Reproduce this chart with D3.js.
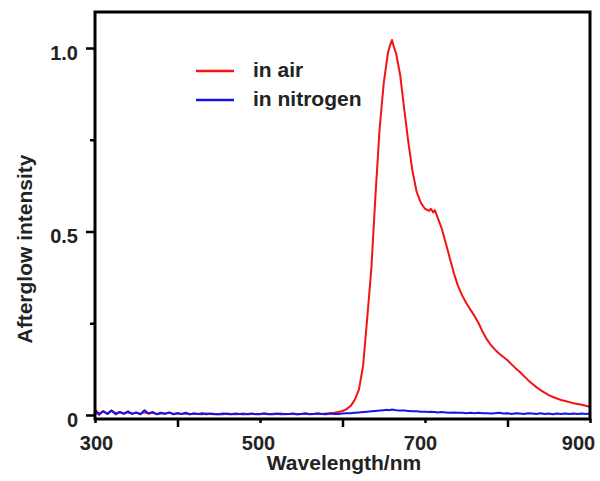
<!DOCTYPE html>
<html>
<head>
<meta charset="utf-8">
<script src="https://cdn.jsdelivr.net/npm/d3@7"></script>
<style>
  html, body { margin: 0; padding: 0; background: #fff; }
  svg { display: block; }
  text { font-family: "Liberation Sans", Arial, sans-serif; font-weight: bold; fill: #222; }
</style>
</head>
<body>
<svg id="chart" width="600" height="481"></svg>
<script>
const wavelengths = [
  300,305,310,315,320,325,330,335,340,345,
  350,355,360,365,370,375,380,385,390,395,
  400,405,410,415,420,425,430,435,440,445,
  450,455,460,465,470,475,480,485,490,495,
  500,505,510,515,520,525,530,535,540,545,
  550,555,560,565,570,575,580,585,590,595,
  600,605,610,615,620,625,630,635,640,645,
  650,655,657,660,662,665,670,675,680,685,
  690,695,700,705,707,710,712,715,720,725,
  730,735,740,745,750,755,760,765,770,775,
  780,785,790,795,800,805,810,815,820,825,
  830,835,840,845,850,855,860,865,870,875,
  880,885,890,895,900
];
const inAir = [
  0.014,0.004,0.009,0.003,0.012,0.005,0.008,0.003,0.007,0.004,
  0.006,0.003,0.007,0.004,0.006,0.003,0.005,0.004,0.006,0.003,
  0.005,0.003,0.004,0.002,0.004,0.003,0.002,0.004,0.003,0.002,
  0.003,0.002,0.004,0.003,0.002,0.003,0.004,0.002,0.003,0.003,
  0.002,0.004,0.003,0.002,0.003,0.004,0.002,0.003,0.003,0.002,
  0.003,0.004,0.003,0.003,0.004,0.003,0.004,0.005,0.006,0.008,
  0.011,0.016,0.025,0.042,0.070,0.135,0.265,0.400,0.600,0.780,
  0.905,0.985,1.003,1.022,1.005,0.985,0.925,0.830,0.740,0.662,
  0.607,0.578,0.562,0.556,0.562,0.552,0.558,0.540,0.510,0.470,
  0.428,0.386,0.352,0.326,0.305,0.287,0.270,0.250,0.226,0.206,
  0.190,0.178,0.167,0.158,0.149,0.138,0.127,0.117,0.106,0.095,
  0.085,0.076,0.068,0.061,0.054,0.049,0.045,0.041,0.038,0.035,
  0.032,0.030,0.028,0.025,0.022
];
const inNitrogen = [
  0.009,0.001,0.011,0.003,0.012,0.002,0.008,0.004,0.010,0.003,
  0.007,0.002,0.013,0.004,0.008,0.002,0.006,0.003,0.007,0.002,
  0.005,0.003,0.006,0.002,0.004,0.003,0.005,0.002,0.004,0.003,
  0.002,0.004,0.003,0.002,0.004,0.003,0.002,0.003,0.004,0.002,
  0.003,0.004,0.002,0.003,0.004,0.002,0.003,0.003,0.004,0.002,
  0.003,0.004,0.002,0.003,0.004,0.003,0.002,0.004,0.003,0.003,
  0.004,0.005,0.005,0.006,0.007,0.008,0.009,0.010,0.011,0.012,
  0.013,0.014,0.013,0.015,0.014,0.013,0.012,0.012,0.011,0.010,
  0.010,0.009,0.009,0.008,0.009,0.008,0.008,0.007,0.008,0.007,
  0.006,0.007,0.006,0.006,0.005,0.006,0.005,0.006,0.005,0.005,
  0.004,0.005,0.006,0.004,0.005,0.003,0.005,0.004,0.003,0.005,
  0.004,0.003,0.005,0.003,0.004,0.002,0.004,0.003,0.004,0.003,
  0.004,0.003,0.004,0.003,0.004
];
const xLabelTicks = [300, 500, 700, 900];
const xOtherTicks = [400, 600, 800];
const yMajorTicks = [0, 0.5, 1.0];
const yMinorTicks = [0.25, 0.75];
const yTickLabels = ["0", "0.5", "1.0"];
const seriesNames = ["in air", "in nitrogen"];
const seriesColors = ["#f21414", "#1414e8"];

(function () {
const svg = d3.select("#chart");
const mLeft = 95, mRight = 590, mTop = 12, mBottom = 419;

const x = d3.scaleLinear().domain([300, 900]).range([mLeft, mRight]);
const y = d3.scaleLinear().domain([0, 1.0]).range([415, 48]);

// Y axis ticks
const yMajor = svg.append("g").attr("transform", `translate(${mLeft},0)`)
  .call(d3.axisLeft(y).tickValues(yMajorTicks).tickSize(9).tickPadding(8)
    .tickFormat((d, i) => yTickLabels[i]));
const yMinor = svg.append("g").attr("transform", `translate(${mLeft},0)`)
  .call(d3.axisLeft(y).tickValues(yMinorTicks).tickSize(5).tickFormat(""));
[yMajor, yMinor].forEach(g => {
  g.select(".domain").remove();
  g.selectAll(".tick line").attr("stroke", "#000").attr("stroke-width", 2.5);
});
yMajor.selectAll(".tick text").attr("font-size", 20).attr("dy", "0.55em")
  .style("font-family", "'Liberation Sans', Arial, sans-serif").style("font-weight", "bold").attr("fill", "#222");

// X axis ticks
const xLab = svg.append("g").attr("transform", `translate(0,${mBottom})`)
  .call(d3.axisBottom(x).tickValues(xLabelTicks).tickSize(4).tickPadding(13).tickFormat(d3.format("d")));
const xOth = svg.append("g").attr("transform", `translate(0,${mBottom})`)
  .call(d3.axisBottom(x).tickValues(xOtherTicks).tickSize(8).tickFormat(""));
[xLab, xOth].forEach(g => {
  g.select(".domain").remove();
  g.selectAll(".tick line").attr("stroke", "#000").attr("stroke-width", 2.5);
});
const labelShift = [1, -2, -5, -12];
xLab.selectAll(".tick text").attr("font-size", 20).attr("dx", (d, i) => labelShift[i])
  .style("font-family", "'Liberation Sans', Arial, sans-serif").style("font-weight", "bold").attr("fill", "#222");

// Data lines
const rows = wavelengths.map((w, i) => ({ w, a: inAir[i], n: inNitrogen[i] }));
const lineAir = d3.line().x(d => x(d.w)).y(d => y(d.a));
const lineN2 = d3.line().x(d => x(d.w)).y(d => y(d.n));
svg.append("path").datum(rows).attr("d", lineAir)
  .attr("fill", "none").attr("stroke", seriesColors[0]).attr("stroke-width", 2).attr("stroke-linejoin", "round");
svg.append("path").datum(rows).attr("d", lineN2)
  .attr("fill", "none").attr("stroke", seriesColors[1]).attr("stroke-width", 2).attr("stroke-linejoin", "round");

// Frame
svg.append("rect").attr("x", mLeft).attr("y", mTop)
  .attr("width", mRight - mLeft).attr("height", mBottom - mTop)
  .attr("fill", "none").attr("stroke", "#000").attr("stroke-width", 3);

// Legend
const legend = svg.append("g");
seriesNames.forEach((name, i) => {
  const ly = 71 + i * 29;
  legend.append("line").attr("x1", 196).attr("x2", 234).attr("y1", ly).attr("y2", ly)
    .attr("stroke", seriesColors[i]).attr("stroke-width", 2.5);
  legend.append("text").attr("x", 253).attr("y", ly + 6).attr("font-size", 21).text(name);
});

// Axis titles
svg.append("text").attr("x", 344).attr("y", 470).attr("text-anchor", "middle")
  .attr("font-size", 21).text("Wavelength/nm");
svg.append("text").attr("transform", "translate(32,249) rotate(-90)")
  .attr("text-anchor", "middle").attr("font-size", 21).text("Afterglow intensity");
})();
</script>
</body>
</html>
